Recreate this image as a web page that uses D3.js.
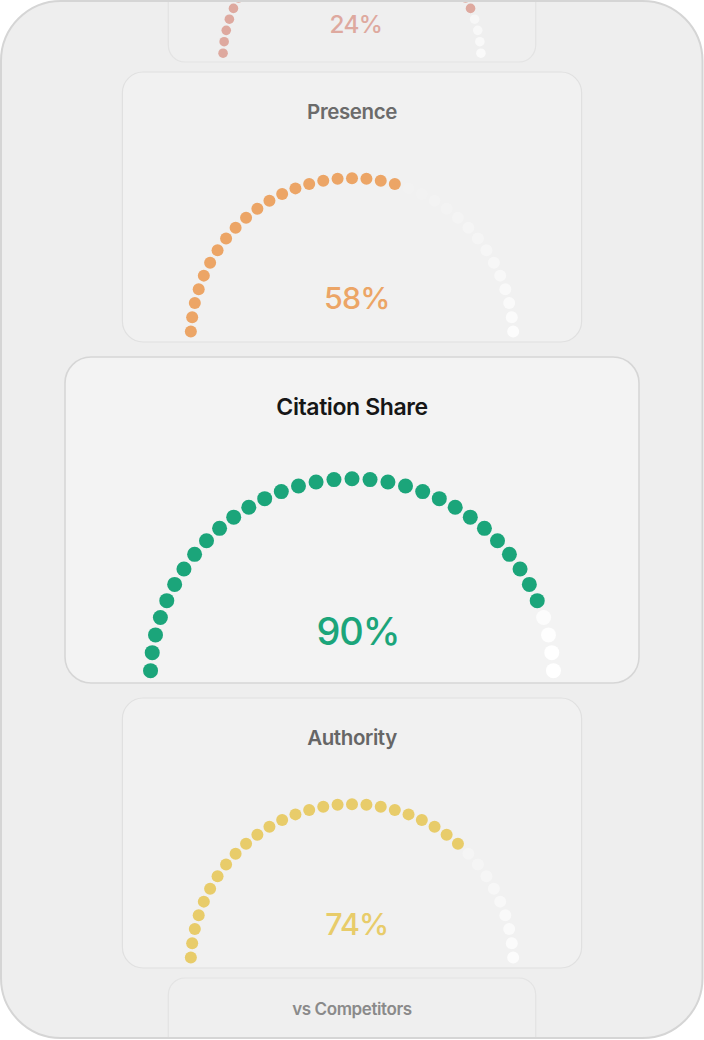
<!DOCTYPE html>
<html>
<head>
<meta charset="utf-8">
<script src="https://cdn.jsdelivr.net/npm/d3@7"></script>
<style>
html,body{margin:0;padding:0;background:#ffffff;}
svg{display:block;}
text{font-family:Inter,"Noto Sans",sans-serif;}
</style>
</head>
<body>
<svg id="chart" width="704" height="1040"></svg>
<script>
// ---- data ----
const categories = ["", "Presence", "Citation Share", "Authority", "vs Competitors"];
const values = [24, 58, 90, 74, null];
const filledDots = [31, 21, 31, 26, 0];
const dotColors = ["#dea99f", "#eca566", "#1ba57a", "#e8cc6a", "#d9d9d9"];
const titleColors = ["#8a8a8a", "#6b6b6b", "#161616", "#666666", "#8a8a8a"];
const dotCount = 35;

// ---- layout ----
const svg = d3.select("#chart");
const cardScale = [0.64, 0.8, 1, 0.8, 0.64];
const baseW = 574, cx = 352;
const heightFor = s => s === 1 ? 326 : (s >= 0.8 ? 270 : 216);
const gapAfter = [10, 15, 15, 10];

const cards = categories.map((c, i) => ({
  label: c, value: values[i], filled: filledDots[i], color: dotColors[i],
  titleColor: titleColors[i], s: cardScale[i]
}));
let y = 62 - heightFor(cards[0].s);
cards.forEach((d, i) => {
  d.h = heightFor(d.s);
  d.w = baseW * d.s;
  d.top = y;
  d.bottom = y + d.h;
  y = d.bottom + (gapAfter[i] || 0);
});

const defs = svg.append("defs");
defs.append("clipPath").attr("id", "outerClip")
  .append("rect").attr("x", 2).attr("y", 2).attr("width", 699.5).attr("height", 1035)
  .attr("rx", 59).attr("ry", 59);

// container
svg.append("rect").attr("x", 1).attr("y", 1).attr("width", 701.5).attr("height", 1037)
  .attr("rx", 60).attr("ry", 60)
  .attr("fill", "#eeeeee").attr("stroke", "#d5d5d5").attr("stroke-width", 2);

const root = svg.append("g").attr("clip-path", "url(#outerClip)");

const angle = d3.scaleLinear().domain([0, dotCount - 1])
  .range([-87.2 * Math.PI / 180, 87.2 * Math.PI / 180]);
const idx = d3.range(dotCount);

const cardFill = s => s === 1 ? "#f3f3f3" : (s >= 0.8 ? "#f1f1f1" : "#efefef");
const cardStroke = s => s === 1 ? "#d6d6d6" : (s >= 0.8 ? "#e0e0e0" : "#e3e3e3");
const dim = s => s === 1 ? 1 : (s >= 0.8 ? 0.75 : 0.65);

const g = root.selectAll("g.card").data(cards).join("g").attr("class", "card");

g.append("rect")
  .attr("x", d => cx - d.w / 2).attr("y", d => d.top)
  .attr("width", d => d.w).attr("height", d => d.h)
  .attr("rx", d => 26 * d.s).attr("ry", d => 26 * d.s)
  .attr("fill", d => cardFill(d.s))
  .attr("stroke", d => cardStroke(d.s))
  .attr("stroke-width", d => d.s === 1 ? 1.6 : 1.2);

// dots + value
g.each(function (d) {
  if (d.value == null) return;
  const sel = d3.select(this);
  const r = 201.7 * d.s, gcy = d.bottom - 2.5, dr = 7.5 * d.s;
  sel.append("g").selectAll("circle").data(idx).join("circle")
    .attr("cx", i => cx + r * Math.sin(angle(i)))
    .attr("cy", i => gcy - r * Math.cos(angle(i)))
    .attr("r", dr)
    .attr("fill", i => i < d.filled ? d.color : "#ffffff")
    .attr("fill-opacity", i => i < d.filled ? 1 : Math.min(1, (0.04 + (1 - Math.cos(angle(i)))) * dim(d.s) * 1.05));
  sel.append("text")
    .attr("x", cx + 6 * d.s).attr("y", d.bottom - (38 * d.s + (1 - d.s) * 12))
    .attr("text-anchor", "middle")
    .attr("font-size", 38 * d.s).attr("font-weight", 500)
    .attr("letter-spacing", -1 * d.s)
    .attr("fill", d.color)
    .text(d.value + "%");
});

// titles
g.filter(d => d.label !== "").append("text")
  .attr("x", cx).attr("y", d => d.top + 57 * d.s + (d.s === 1 ? 1 : 1))
  .attr("text-anchor", "middle")
  .attr("font-size", d => d.s === 1 ? 23 : (d.s >= 0.8 ? 20.5 : 17))
  .attr("font-weight", 600)
  .attr("letter-spacing", -0.4)
  .attr("fill", d => d.titleColor)
  .text(d => d.label);
</script>
</body>
</html>
